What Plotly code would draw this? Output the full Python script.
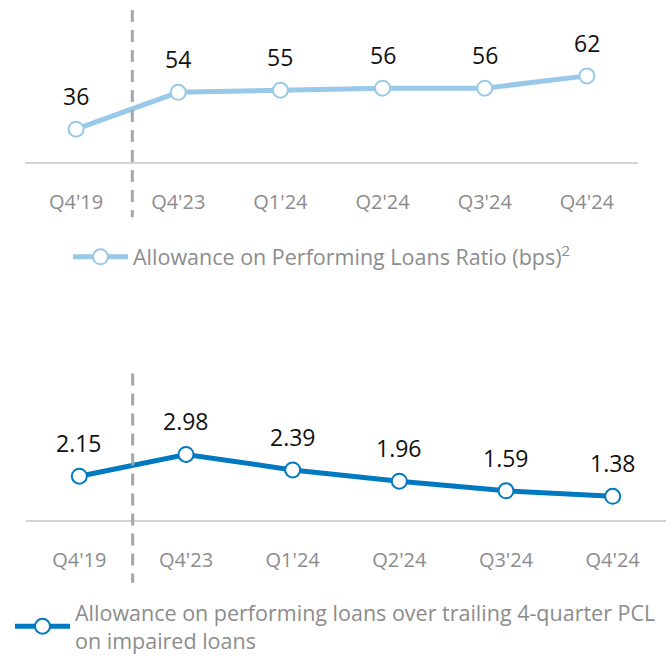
import plotly.graph_objects as go

quarters = ["Q4'19", "Q4'23", "Q1'24", "Q2'24", "Q3'24", "Q4'24"]
ratio_bps = [36, 54, 55, 56, 56, 62]
coverage = [2.15, 2.98, 2.39, 1.96, 1.59, 1.38]

ratio_name = "Allowance on Performing Loans Ratio (bps)<sup>2</sup>"
coverage_name = "Allowance on performing loans over trailing 4-quarter PCL<br>on impaired loans"

LIGHT = "#99c9e8"
DARK = "#0079c1"
FONT = "Open Sans"
H = 661

xs = list(range(len(quarters)))

fig = go.Figure()
fig.add_trace(go.Scatter(
    x=xs, y=ratio_bps, name=ratio_name, mode="lines+markers",
    line=dict(color=LIGHT, width=5),
    marker=dict(size=15, color="white", line=dict(color=LIGHT, width=2)),
    xaxis="x", yaxis="y", legend="legend", showlegend=True,
))
fig.add_trace(go.Scatter(
    x=xs, y=coverage, name=coverage_name, mode="lines+markers",
    line=dict(color=DARK, width=5),
    marker=dict(size=15, color="white", line=dict(color=DARK, width=2)),
    xaxis="x2", yaxis="y2", legend="legend2", showlegend=True,
))

# value labels above points
for x, v in zip(xs, ratio_bps):
    fig.add_annotation(x=x, y=v, xref="x", yref="y", text=str(v), showarrow=False,
                       yshift=33, font=dict(size=23, color="#111", family=FONT))
for x, v in zip(xs, coverage):
    fig.add_annotation(x=x, y=v, xref="x2", yref="y2", text=f"{v:.2f}", showarrow=False,
                       yshift=33, font=dict(size=23, color="#111", family=FONT))

xaxis_style = dict(
    tickvals=xs, ticktext=quarters, range=[-0.5, 5.5],
    showline=True, linecolor="#d4d4d4", linewidth=2,
    showgrid=False, zeroline=False,
    ticks="outside", ticklen=21, tickcolor="rgba(0,0,0,0)",
    tickfont=dict(size=20, color="#8c8c8c", family=FONT),
    fixedrange=True,
)
legend_style = dict(xanchor="left", yanchor="middle", itemwidth=55,
                    font=dict(size=21.5, color="#8c8c8c", family=FONT),
                    bgcolor="rgba(0,0,0,0)")
divider = dict(color="#a6a6a6", width=3, dash="12px,8px")

fig.update_layout(
    width=666, height=661,
    margin=dict(l=0, r=0, t=0, b=0),
    paper_bgcolor="white", plot_bgcolor="white",
    font=dict(family=FONT),
    showlegend=True,
    xaxis=dict(domain=[25 / 666, 638 / 666], anchor="y", **xaxis_style),
    yaxis=dict(domain=[1 - 164 / H, 1], range=[20, 99], visible=False, anchor="x"),
    xaxis2=dict(domain=[26 / 666, 1], anchor="y2", **xaxis_style),
    yaxis2=dict(domain=[1 - 526 / H, 1 - 380 / H], range=[0.49, 6.0], visible=False, anchor="x2"),
    legend=dict(x=68 / 666, y=1 - 260 / H, **legend_style),
    legend2=dict(x=10 / 666, y=1 - 634 / H, **legend_style),
    shapes=[
        dict(type="line", xref="x", yref="paper", x0=0.55, x1=0.55,
             y0=1 - 10 / H, y1=1 - 220 / H, line=divider),
        dict(type="line", xref="x2", yref="paper", x0=0.5, x1=0.5,
             y0=1 - 378 / H, y1=1 - 590 / H, line=divider),
    ],
)

fig.write_html("out.html", config={"displayModeBar": False},
               post_script="document.body.style.margin='0';")
